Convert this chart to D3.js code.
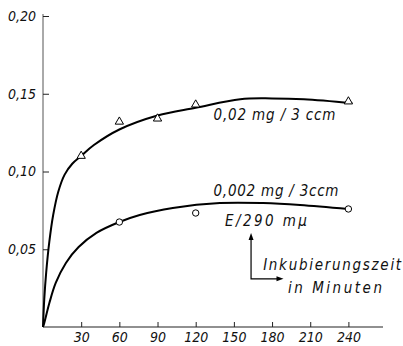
<!DOCTYPE html>
<html>
<head>
<meta charset="utf-8">
<script src="https://cdn.jsdelivr.net/npm/d3@7"></script>
<style>
  body { margin: 0; background: #fff; }
  text { font-family: "DejaVu Sans Condensed", "Liberation Sans Narrow", "DejaVu Sans", sans-serif; font-style: italic; fill: #111; }
</style>
</head>
<body>
<div id="chart"></div>
<script>
// measured points (minutes, extinction E/290 mµ)
const highPoints = [[30, 0.110], [60, 0.132], [90, 0.134], [120, 0.143], [240, 0.145]];
const lowPoints = [[60, 0.0675], [120, 0.0733], [240, 0.0759]];

// hand drawn curves
const highCurve = [[0, 0], [1, 0.018], [2.5, 0.035], [5, 0.055], [8, 0.072], [12, 0.087],
  [17, 0.098], [23, 0.105], [30, 0.110], [40, 0.117], [60, 0.127], [90, 0.136],
  [120, 0.141], [155, 0.1465], [180, 0.147], [205, 0.1465], [243, 0.144]];
const lowCurve = [[0, 0], [1, 0.0026], [5, 0.0154], [10, 0.0283], [18, 0.0412], [28, 0.0514],
  [42, 0.0605], [60, 0.0675], [76, 0.072], [102, 0.0765], [139, 0.0797], [173, 0.0797],
  [202, 0.0785], [240, 0.0759]];

const xTicks = [30, 60, 90, 120, 150, 180, 210, 240];
const yTicks = [0.05, 0.10, 0.15, 0.20];

const width = 403, height = 346;

const svg = d3.select("#chart").append("svg")
  .attr("width", width)
  .attr("height", height);

const x = d3.scaleLinear().domain([0, 240]).range([43, 348.4]);
const y = d3.scaleLinear().domain([0, 0.20]).range([327, 16]);

// axis lines
svg.append("line")
  .attr("x1", x(0)).attr("x2", 383)
  .attr("y1", y(0)).attr("y2", y(0))
  .attr("stroke", "#222").attr("stroke-width", 1.2);
svg.append("line")
  .attr("x1", x(0)).attr("x2", x(0))
  .attr("y1", y(0)).attr("y2", 14)
  .attr("stroke", "#555").attr("stroke-width", 1);

const xAxis = svg.append("g")
  .attr("transform", "translate(0," + y(0) + ")")
  .call(d3.axisBottom(x).tickValues(xTicks).tickSize(-5).tickPadding(5));
xAxis.select(".domain").remove();

const yAxis = svg.append("g")
  .attr("transform", "translate(" + x(0) + ",0)")
  .call(d3.axisLeft(y).tickValues(yTicks).tickSize(-6).tickPadding(7)
    .tickFormat(d => d3.format(".2f")(d).replace(".", ",")));
yAxis.select(".domain").remove();

svg.selectAll(".tick line").attr("stroke", "#222");
svg.selectAll(".tick text")
  .style("font-size", "14px");
svg.selectAll("g").attr("font-family", null).attr("font-size", null);

// curves
const line = d3.line()
  .x(d => x(d[0]))
  .y(d => y(d[1]))
  .curve(d3.curveCatmullRom.alpha(0.5));

svg.append("path")
  .datum(highCurve)
  .attr("d", line)
  .attr("fill", "none").attr("stroke", "#000").attr("stroke-width", 2);
svg.append("path")
  .datum(lowCurve)
  .attr("d", line)
  .attr("fill", "none").attr("stroke", "#000").attr("stroke-width", 2);

// markers
const tri = d3.symbol().type(d3.symbolTriangle).size(30);
svg.selectAll(".tri")
  .data(highPoints)
  .enter().append("path")
  .attr("class", "tri")
  .attr("d", tri)
  .attr("transform", d => "translate(" + x(d[0]) + "," + y(d[1]) + ")")
  .attr("fill", "#fff").attr("stroke", "#000").attr("stroke-width", 1);

svg.selectAll(".dot")
  .data(lowPoints)
  .enter().append("circle")
  .attr("class", "dot")
  .attr("cx", d => x(d[0]))
  .attr("cy", d => y(d[1]))
  .attr("r", 3.2)
  .attr("fill", "#fff").attr("stroke", "#000").attr("stroke-width", 1);

// annotations (placed in data units, widths in px)
const notes = [
  { t: 134, v: 0.133, w: 122, text: "0,02 mg / 3 ccm" },
  { t: 134, v: 0.0842, w: 125, text: "0,002 mg / 3ccm" },
  { t: 143, v: 0.065, w: 82, text: "E/290 mµ" },
  { t: 173, v: 0.0367, w: 138, text: "Inkubierungszeit" },
  { t: 192.5, v: 0.0219, w: 94, text: "in Minuten" }
];
svg.selectAll(".note")
  .data(notes)
  .enter().append("text")
  .attr("class", "note")
  .attr("x", d => x(d.t))
  .attr("y", d => y(d.v))
  .attr("textLength", d => d.w)
  .attr("lengthAdjust", "spacing")
  .style("font-size", "15px")
  .text(d => d.text);

// arrow
const arrowX = x(163.5), arrowTop = y(0.0605), arrowCorner = y(0.031), arrowRight = x(189);
svg.append("path")
  .attr("d", "M" + arrowX + "," + (arrowTop + 4) + "V" + arrowCorner + "H" + (arrowRight - 4))
  .attr("fill", "none").attr("stroke", "#000").attr("stroke-width", 1.2);
svg.append("path")
  .attr("d", "M" + arrowX + "," + arrowTop + "l-2.5,7h5z")
  .attr("fill", "#000");
svg.append("path")
  .attr("d", "M" + arrowRight + "," + arrowCorner + "l-7,-2.5v5z")
  .attr("fill", "#000");
</script>
</body>
</html>
